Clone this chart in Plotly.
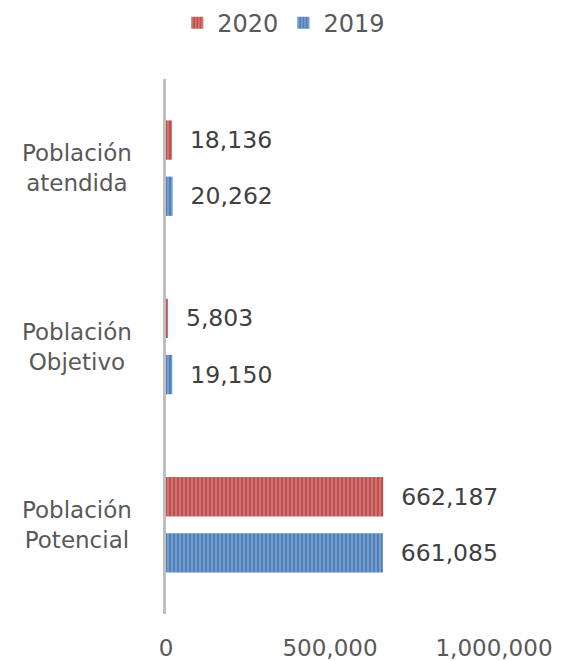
import plotly.graph_objects as go

categories = ["Población Potencial", "Población Objetivo", "Población atendida"]
category_labels = ["Población<br>Potencial", "Población<br>Objetivo", "Población<br>atendida"]
values_2019 = [661085, 19150, 20262]
values_2020 = [662187, 5803, 18136]
x_ticks = [0, 500000, 1000000]
x_tick_labels = ["0", "500,000", "1,000,000"]

FONT = "DejaVu Sans"
GREY = "#595959"
PAD = "\u00a0\u00a0"

fig = go.Figure()
fig.add_trace(go.Bar(
    name="2019", y=categories, x=values_2019, orientation="h",
    marker=dict(color="#4F81BD", line=dict(width=0),
                pattern=dict(shape="|", fgcolor="#B8CCE4", bgcolor="#4F81BD", size=4, solidity=0.35, fillmode="overlay")),
    text=[PAD + f"{v:,}" for v in values_2019], textposition="outside",
    textfont=dict(family=FONT, size=23.5, color="#404040"),
    constraintext="none", cliponaxis=False, legendrank=2,
))
fig.add_trace(go.Bar(
    name="2020", y=categories, x=values_2020, orientation="h",
    marker=dict(color="#C0504D", line=dict(width=0),
                pattern=dict(shape="|", fgcolor="#E6B9B8", bgcolor="#C0504D", size=4, solidity=0.35, fillmode="overlay")),
    text=[PAD + f"{v:,}" for v in values_2020], textposition="outside",
    textfont=dict(family=FONT, size=23.5, color="#404040"),
    constraintext="none", cliponaxis=False, legendrank=1,
))

for cat, lab in zip(categories, category_labels):
    fig.add_annotation(x=-0.271, xref="paper", y=cat, yref="y", text=lab,
                       showarrow=False, xanchor="center", yanchor="middle", align="center",
                       font=dict(family=FONT, size=23, color=GREY))

fig.update_layout(
    width=562, height=661,
    margin=dict(l=166, r=68, t=79, b=47, autoexpand=False),
    paper_bgcolor="white", plot_bgcolor="white",
    barmode="group", bargap=0.37, bargroupgap=0.30,
    font=dict(family=FONT, size=23, color=GREY),
    showlegend=True,
    legend=dict(orientation="h", xref="container", yref="container", x=0.505, xanchor="center",
                y=0.965, yanchor="middle", font=dict(family=FONT, size=24, color=GREY),
                itemsizing="constant"),
    xaxis=dict(range=[0, 1000000], tickvals=x_ticks, ticktext=x_tick_labels, showgrid=False,
               zeroline=False, showline=False, ticks="", ticklabelstandoff=18,
               tickfont=dict(family=FONT, size=23, color=GREY), automargin=False),
    yaxis=dict(showticklabels=False, showgrid=False, zeroline=False, showline=True,
               linecolor="#BFBFBF", linewidth=3, ticks="", automargin=False),
)

fig.write_html("out.html", config={"displayModeBar": False},
               post_script="document.body.style.margin='0px';")
